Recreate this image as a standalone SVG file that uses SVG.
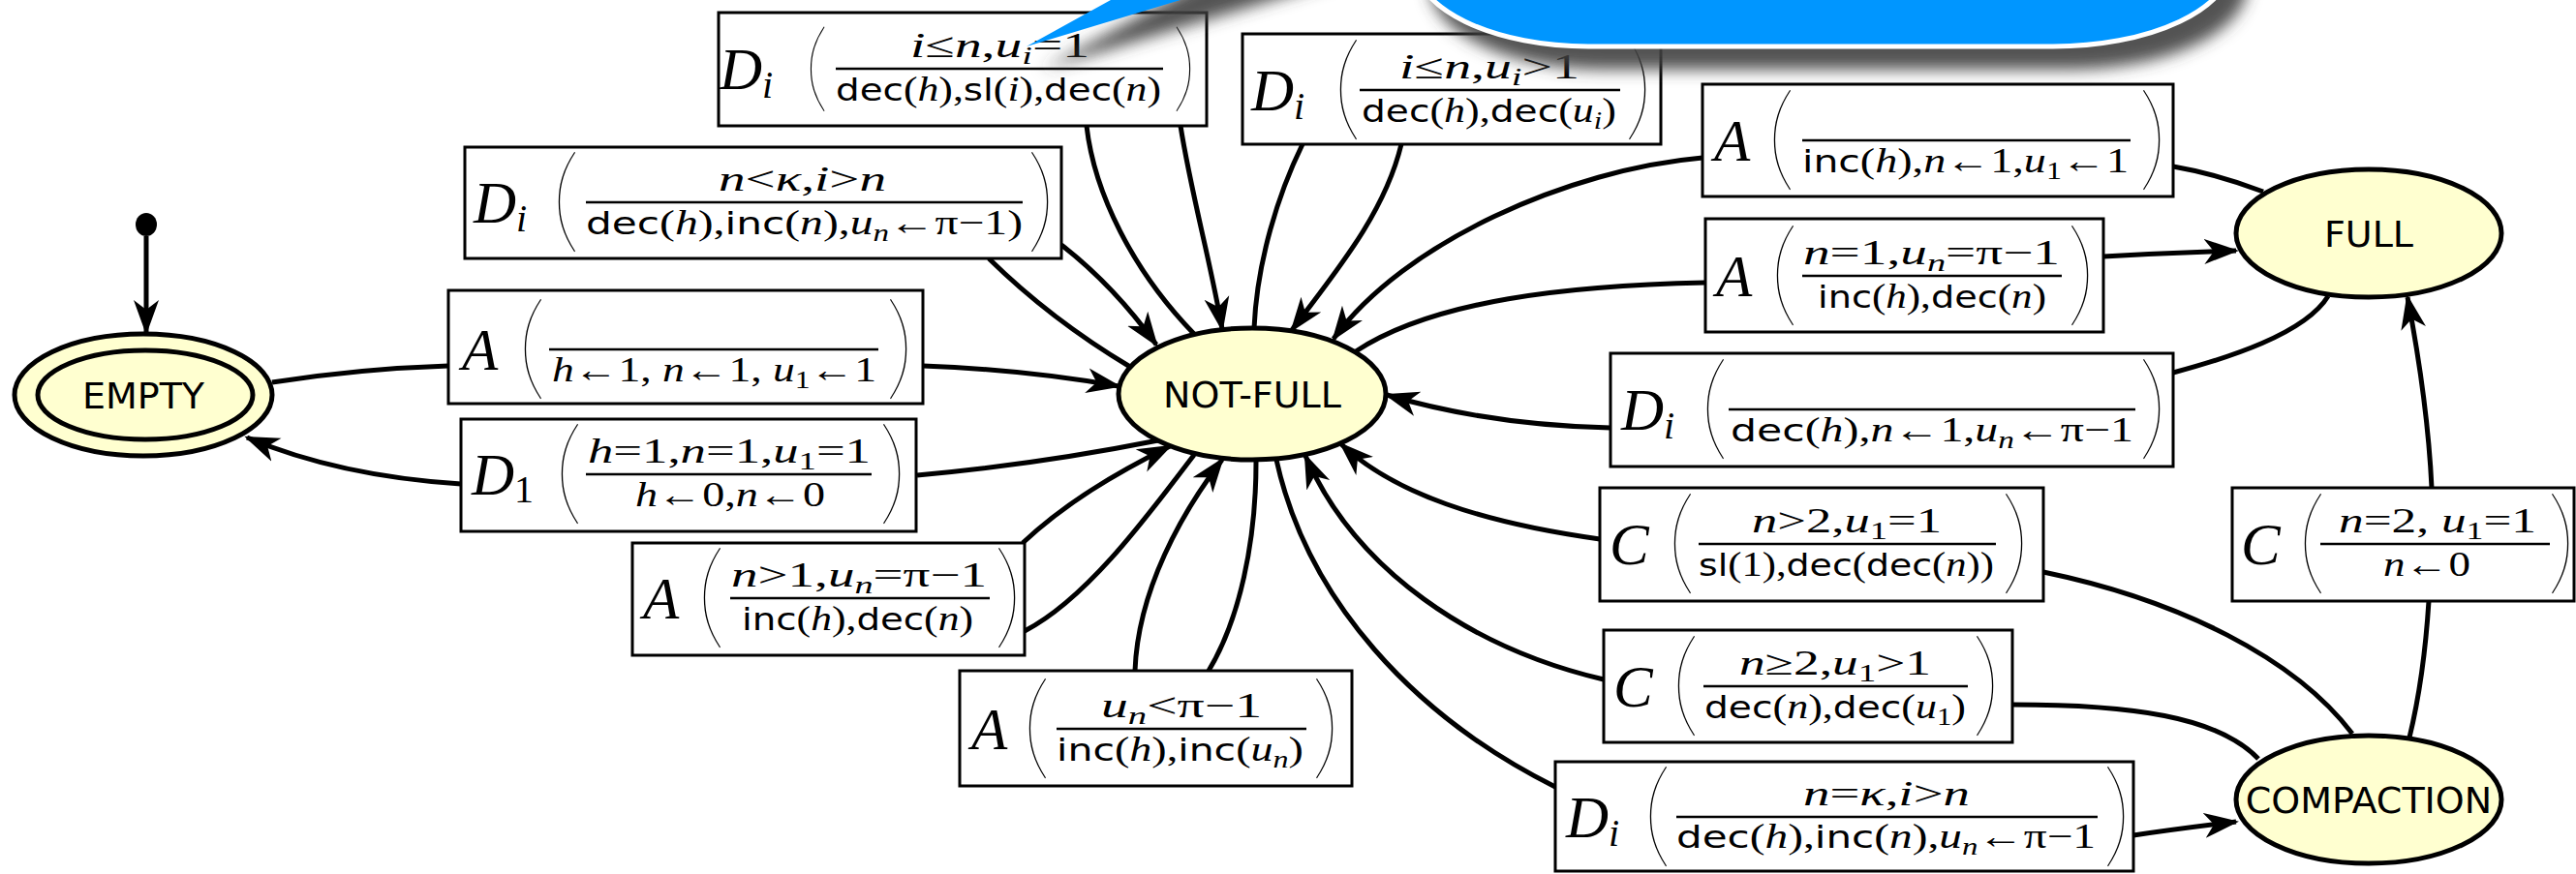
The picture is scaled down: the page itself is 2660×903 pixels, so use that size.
<svg xmlns="http://www.w3.org/2000/svg" width="2660" height="903" viewBox="0 0 2660 903">
<defs>
<marker id="ah" markerUnits="userSpaceOnUse" markerWidth="40" markerHeight="30" viewBox="0 0 40 30" refX="33" refY="15" orient="auto">
<path d="M0,2 L36,15 L0,28 L10,15 Z" fill="#000"/>
</marker>
<filter id="sh" x="-20%" y="-60%" width="140%" height="220%"><feGaussianBlur stdDeviation="8"/></filter>
<style>
.e{fill:none;stroke:#000;stroke-width:5}
.nd{fill:#ffffd0;stroke:#000;stroke-width:5}
.nt{font-family:"DejaVu Sans",sans-serif;font-size:38px;text-anchor:middle;fill:#000}
.bx{fill:#fff;stroke:#000;stroke-width:3}
.big{font-family:"Liberation Serif",serif;font-style:italic;font-size:61px}
.bs{font-size:40px}
.up{font-style:normal}
.fr{font-family:"Liberation Serif",serif;font-size:36px}
.it{font-style:italic}
.sf{font-family:"DejaVu Sans",sans-serif;font-size:32px}
.sb{font-size:25px}
.pr{font-family:Lato,sans-serif;font-weight:100;font-size:118px;text-anchor:middle}
.ps{font-size:100px}
.fl{stroke:#000;stroke-width:2.5}
</style>
</defs>
<rect width="2660" height="903" fill="#fff"/>

<g id="connectors">
<path class="e" d="M151,244 L151,343" marker-end="url(#ah)"/>
<path class="e" d="M281,395 Q370,381 463,378"/>
<path class="e" d="M953,378 Q1060,382 1155,399" marker-end="url(#ah)"/>
<path class="e" d="M1196,455 Q1070,480 947,491"/>
<path class="e" d="M476,500 Q350,492 255,452" marker-end="url(#ah)"/>
<path class="e" d="M1167,379 Q1085,330 1021,267"/>
<path class="e" d="M1096,253 Q1150,295 1194,356" marker-end="url(#ah)"/>
<path class="e" d="M1233,345 C1170,280 1130,200 1122,130"/>
<path class="e" d="M1219,130 C1230,200 1250,270 1262,340" marker-end="url(#ah)"/>
<path class="e" d="M1295,339 C1298,270 1320,200 1345,149"/>
<path class="e" d="M1447,149 C1430,220 1380,280 1334,341" marker-end="url(#ah)"/>
<path class="e" d="M2337,198 Q2290,180 2244,172"/>
<path class="e" d="M1758,163 C1620,175 1450,250 1377,350" marker-end="url(#ah)"/>
<path class="e" d="M1400,363 C1480,310 1620,295 1761,292"/>
<path class="e" d="M2172,265 Q2240,261 2309,259" marker-end="url(#ah)"/>
<path class="e" d="M2404,306 C2380,345 2300,370 2244,385"/>
<path class="e" d="M1663,442 C1570,440 1490,425 1432,408" marker-end="url(#ah)"/>
<path class="e" d="M2429,758 C2370,680 2250,620 2110,591"/>
<path class="e" d="M1652,557 C1530,540 1440,510 1385,459" marker-end="url(#ah)"/>
<path class="e" d="M2332,784 C2290,740 2200,728 2078,728"/>
<path class="e" d="M1656,702 C1520,670 1400,590 1348,471" marker-end="url(#ah)"/>
<path class="e" d="M1318,475 C1350,620 1460,740 1606,813"/>
<path class="e" d="M2203,863 Q2250,856 2309,849" marker-end="url(#ah)"/>
<path class="e" d="M2488,762 Q2503,700 2508,621"/>
<path class="e" d="M2511,504 C2508,440 2498,370 2486,307" marker-end="url(#ah)"/>
<path class="e" d="M1056,561 C1100,520 1150,490 1208,461" marker-end="url(#ah)"/>
<path class="e" d="M1233,470 C1180,540 1120,620 1058,652"/>
<path class="e" d="M1172,693 C1175,610 1220,530 1262,475" marker-end="url(#ah)"/>
<path class="e" d="M1297,477 C1297,560 1280,640 1248,693"/>
</g>

<g id="init"><ellipse cx="151" cy="232" rx="11" ry="12" fill="#000"/></g>
<g id="n-empty"><ellipse class="nd" cx="148" cy="408" rx="133" ry="63"/><ellipse class="nd" cx="150" cy="408" rx="111" ry="46"/><text class="nt" x="148" y="422">EMPTY</text></g>
<g id="n-notfull"><ellipse class="nd" cx="1293" cy="407" rx="138" ry="68"/><text class="nt" x="1293" y="421">NOT-FULL</text></g>
<g id="n-full"><ellipse class="nd" cx="2446" cy="241" rx="137" ry="66"/><text class="nt" x="2446" y="255">FULL</text></g>
<g id="n-compaction"><ellipse class="nd" cx="2446" cy="826" rx="137" ry="66"/><text class="nt" x="2446" y="840">COMPACTION</text></g>

<g id="l-a-init">
<rect class="bx" x="463" y="300" width="490" height="117"/>
<text class="big" x="477" y="382">A</text>
<text class="pr" x="549" y="398">(</text><text class="pr" x="929" y="398">)</text>
<line class="fl" x1="567" y1="361" x2="907" y2="361"/>
<text class="fr" x="570" y="394" textLength="335" lengthAdjust="spacingAndGlyphs"><tspan class="it">h</tspan>←1, <tspan class="it">n</tspan>←1, <tspan class="it">u</tspan><tspan class="sb" dy="7">1</tspan><tspan dy="-7">←1</tspan></text>
</g>

<g id="l-d1">
<rect class="bx" x="476" y="433" width="470" height="116"/>
<text class="big" x="487" y="511">D<tspan class="bs up" dy="8">1</tspan></text>
<text class="pr" x="587" y="527">(</text><text class="pr" x="922" y="527">)</text>
<line class="fl" x1="605" y1="490" x2="900" y2="490"/>
<text class="fr" x="607" y="478" textLength="292" lengthAdjust="spacingAndGlyphs"><tspan class="it">h</tspan>=1,<tspan class="it">n</tspan>=1,<tspan class="it">u</tspan><tspan class="sb" dy="7">1</tspan><tspan dy="-7">=1</tspan></text>
<text class="fr" x="656" y="523" textLength="196" lengthAdjust="spacingAndGlyphs"><tspan class="it">h</tspan>←0,<tspan class="it">n</tspan>←0</text>
</g>

<g id="l-di-nk">
<rect class="bx" x="480" y="152" width="616" height="115"/>
<text class="big" x="489" y="230">D<tspan class="bs" dy="9">i</tspan></text>
<text class="pr" x="584" y="246">(</text><text class="pr" x="1075" y="246">)</text>
<line class="fl" x1="605" y1="209" x2="1056" y2="209"/>
<text class="fr" x="742" y="197" textLength="173" lengthAdjust="spacingAndGlyphs"><tspan class="it">n</tspan>&lt;<tspan class="it">κ</tspan>,<tspan class="it">i</tspan>&gt;<tspan class="it">n</tspan></text>
<text class="fr" x="605" y="242" textLength="451" lengthAdjust="spacingAndGlyphs"><tspan class="sf">dec</tspan>(<tspan class="it">h</tspan>),<tspan class="sf">inc</tspan>(<tspan class="it">n</tspan>),<tspan class="it">u</tspan><tspan class="it sb" dy="7">n</tspan><tspan dy="-7">←π−1)</tspan></text>
</g>

<g id="l-di-ui1">
<rect class="bx" x="742" y="13" width="504" height="117"/>
<text class="big" x="743" y="92">D<tspan class="bs" dy="9">i</tspan></text>
<text class="pr ps" x="843" y="103">(</text><text class="pr ps" x="1223" y="103">)</text>
<line class="fl" x1="863" y1="71" x2="1201" y2="71"/>
<text class="fr" x="940" y="59" textLength="185" lengthAdjust="spacingAndGlyphs"><tspan class="it">i</tspan>≤<tspan class="it">n</tspan>,<tspan class="it">u</tspan><tspan class="it sb" dy="7">i</tspan><tspan dy="-7">=1</tspan></text>
<text class="fr" x="863" y="104" textLength="336" lengthAdjust="spacingAndGlyphs"><tspan class="sf">dec</tspan>(<tspan class="it">h</tspan>),<tspan class="sf">sl</tspan>(<tspan class="it">i</tspan>),<tspan class="sf">dec</tspan>(<tspan class="it">n</tspan>)</text>
</g>

<g id="l-di-uig1">
<rect class="bx" x="1283" y="35" width="432" height="114"/>
<text class="big" x="1292" y="114">D<tspan class="bs" dy="9">i</tspan></text>
<text class="pr" x="1391" y="130">(</text><text class="pr" x="1692" y="130">)</text>
<line class="fl" x1="1404" y1="93" x2="1673" y2="93"/>
<text class="fr" x="1445" y="81" textLength="186" lengthAdjust="spacingAndGlyphs"><tspan class="it">i</tspan>≤<tspan class="it">n</tspan>,<tspan class="it">u</tspan><tspan class="it sb" dy="7">i</tspan><tspan dy="-7">&gt;1</tspan></text>
<text class="fr" x="1406" y="126" textLength="263" lengthAdjust="spacingAndGlyphs"><tspan class="sf">dec</tspan>(<tspan class="it">h</tspan>),<tspan class="sf">dec</tspan>(<tspan class="it">u</tspan><tspan class="it sb" dy="7">i</tspan><tspan dy="-7">)</tspan></text>
</g>

<g id="l-a-full-nf">
<rect class="bx" x="1758" y="87" width="486" height="116"/>
<text class="big" x="1770" y="166">A</text>
<text class="pr" x="1839" y="182">(</text><text class="pr" x="2223" y="182">)</text>
<line class="fl" x1="1861" y1="145" x2="2200" y2="145"/>
<text class="fr" x="1861" y="178" textLength="337" lengthAdjust="spacingAndGlyphs"><tspan class="sf">inc</tspan>(<tspan class="it">h</tspan>),<tspan class="it">n</tspan>←1,<tspan class="it">u</tspan><tspan class="sb" dy="7">1</tspan><tspan dy="-7">←1</tspan></text>
</g>

<g id="l-a-nf-full">
<rect class="bx" x="1761" y="226" width="411" height="117"/>
<text class="big" x="1772" y="306">A</text>
<text class="pr" x="1842" y="322">(</text><text class="pr" x="2149" y="322">)</text>
<line class="fl" x1="1861" y1="285" x2="2129" y2="285"/>
<text class="fr" x="1862" y="273" textLength="265" lengthAdjust="spacingAndGlyphs"><tspan class="it">n</tspan>=1,<tspan class="it">u</tspan><tspan class="it sb" dy="7">n</tspan><tspan dy="-7">=π−1</tspan></text>
<text class="fr" x="1877" y="318" textLength="236" lengthAdjust="spacingAndGlyphs"><tspan class="sf">inc</tspan>(<tspan class="it">h</tspan>),<tspan class="sf">dec</tspan>(<tspan class="it">n</tspan>)</text>
</g>

<g id="l-di-full-nf">
<rect class="bx" x="1663" y="365" width="581" height="117"/>
<text class="big" x="1674" y="444">D<tspan class="bs" dy="9">i</tspan></text>
<text class="pr" x="1770" y="460">(</text><text class="pr" x="2223" y="460">)</text>
<line class="fl" x1="1785" y1="423" x2="2205" y2="423"/>
<text class="fr" x="1787" y="456" textLength="416" lengthAdjust="spacingAndGlyphs"><tspan class="sf">dec</tspan>(<tspan class="it">h</tspan>),<tspan class="it">n</tspan>←1,<tspan class="it">u</tspan><tspan class="it sb" dy="7">n</tspan><tspan dy="-7">←π−1</tspan></text>
</g>

<g id="l-c-ng2">
<rect class="bx" x="1652" y="504" width="458" height="117"/>
<text class="big" x="1662" y="583">C</text>
<text class="pr" x="1736" y="599">(</text><text class="pr" x="2081" y="599">)</text>
<line class="fl" x1="1754" y1="562" x2="2061" y2="562"/>
<text class="fr" x="1809" y="550" textLength="196" lengthAdjust="spacingAndGlyphs"><tspan class="it">n</tspan>&gt;2,<tspan class="it">u</tspan><tspan class="sb" dy="7">1</tspan><tspan dy="-7">=1</tspan></text>
<text class="fr" x="1754" y="595" textLength="305" lengthAdjust="spacingAndGlyphs"><tspan class="sf">sl</tspan>(1),<tspan class="sf">dec</tspan>(<tspan class="sf">dec</tspan>(<tspan class="it">n</tspan>))</text>
</g>

<g id="l-c-nge2">
<rect class="bx" x="1656" y="651" width="422" height="116"/>
<text class="big" x="1666" y="730">C</text>
<text class="pr" x="1740" y="746">(</text><text class="pr" x="2051" y="746">)</text>
<line class="fl" x1="1759" y1="709" x2="2032" y2="709"/>
<text class="fr" x="1796" y="697" textLength="198" lengthAdjust="spacingAndGlyphs"><tspan class="it">n</tspan>≥2,<tspan class="it">u</tspan><tspan class="sb" dy="7">1</tspan><tspan dy="-7">&gt;1</tspan></text>
<text class="fr" x="1760" y="742" textLength="270" lengthAdjust="spacingAndGlyphs"><tspan class="sf">dec</tspan>(<tspan class="it">n</tspan>),<tspan class="sf">dec</tspan>(<tspan class="it">u</tspan><tspan class="sb" dy="7">1</tspan><tspan dy="-7">)</tspan></text>
</g>

<g id="l-di-nk2">
<rect class="bx" x="1606" y="787" width="597" height="113"/>
<text class="big" x="1617" y="865">D<tspan class="bs" dy="9">i</tspan></text>
<text class="pr" x="1711" y="881">(</text><text class="pr" x="2186" y="881">)</text>
<line class="fl" x1="1731" y1="844" x2="2166" y2="844"/>
<text class="fr" x="1862" y="832" textLength="172" lengthAdjust="spacingAndGlyphs"><tspan class="it">n</tspan>=<tspan class="it">κ</tspan>,<tspan class="it">i</tspan>&gt;<tspan class="it">n</tspan></text>
<text class="fr" x="1731" y="876" textLength="433" lengthAdjust="spacingAndGlyphs"><tspan class="sf">dec</tspan>(<tspan class="it">h</tspan>),<tspan class="sf">inc</tspan>(<tspan class="it">n</tspan>),<tspan class="it">u</tspan><tspan class="it sb" dy="7">n</tspan><tspan dy="-7">←π−1</tspan></text>
</g>

<g id="l-c-n2">
<rect class="bx" x="2305" y="504" width="353" height="117"/>
<text class="big" x="2314" y="583">C</text>
<text class="pr" x="2387" y="599">(</text><text class="pr" x="2645" y="599">)</text>
<line class="fl" x1="2396" y1="562" x2="2633" y2="562"/>
<text class="fr" x="2415" y="550" textLength="204" lengthAdjust="spacingAndGlyphs"><tspan class="it">n</tspan>=2, <tspan class="it">u</tspan><tspan class="sb" dy="7">1</tspan><tspan dy="-7">=1</tspan></text>
<text class="fr" x="2461" y="595" textLength="90" lengthAdjust="spacingAndGlyphs"><tspan class="it">n</tspan>←0</text>
</g>

<g id="l-a-n1">
<rect class="bx" x="653" y="561" width="405" height="116"/>
<text class="big" x="664" y="639">A</text>
<text class="pr" x="734" y="655">(</text><text class="pr" x="1041" y="655">)</text>
<line class="fl" x1="754" y1="618" x2="1022" y2="618"/>
<text class="fr" x="755" y="606" textLength="264" lengthAdjust="spacingAndGlyphs"><tspan class="it">n</tspan>&gt;1,<tspan class="it">u</tspan><tspan class="it sb" dy="7">n</tspan><tspan dy="-7">=π−1</tspan></text>
<text class="fr" x="766" y="651" textLength="239" lengthAdjust="spacingAndGlyphs"><tspan class="sf">inc</tspan>(<tspan class="it">h</tspan>),<tspan class="sf">dec</tspan>(<tspan class="it">n</tspan>)</text>
</g>

<g id="l-a-un">
<rect class="bx" x="991" y="693" width="405" height="119"/>
<text class="big" x="1003" y="774">A</text>
<text class="pr" x="1070" y="790">(</text><text class="pr" x="1369" y="790">)</text>
<line class="fl" x1="1091" y1="753" x2="1349" y2="753"/>
<text class="fr" x="1137" y="741" textLength="166" lengthAdjust="spacingAndGlyphs"><tspan class="it">u</tspan><tspan class="it sb" dy="7">n</tspan><tspan dy="-7">&lt;π−1</tspan></text>
<text class="fr" x="1091" y="786" textLength="255" lengthAdjust="spacingAndGlyphs"><tspan class="sf">inc</tspan>(<tspan class="it">h</tspan>),<tspan class="sf">inc</tspan>(<tspan class="it">u</tspan><tspan class="it sb" dy="7">n</tspan><tspan dy="-7">)</tspan></text>
</g>

<g id="callout">
<path d="M1060,48 L1328,-100 L1550,-100 Z M1460,-120 L1460,-40 A180,88 0 0 0 1640,48 L2120,48 A185,88 0 0 0 2305,-40 L2305,-120 Z" fill="#404040" fill-opacity="0.9" filter="url(#sh)" transform="translate(16,24)"/>
<path d="M1060,48 L1328,-100 L1550,-100 Z" fill="#0096ff"/>
<path d="M1460,-120 L1460,-40 A180,88 0 0 0 1640,48 L2120,48 A185,88 0 0 0 2305,-40 L2305,-120 Z" fill="#0096ff" stroke="#fff" stroke-width="5"/>
</g>
</svg>
